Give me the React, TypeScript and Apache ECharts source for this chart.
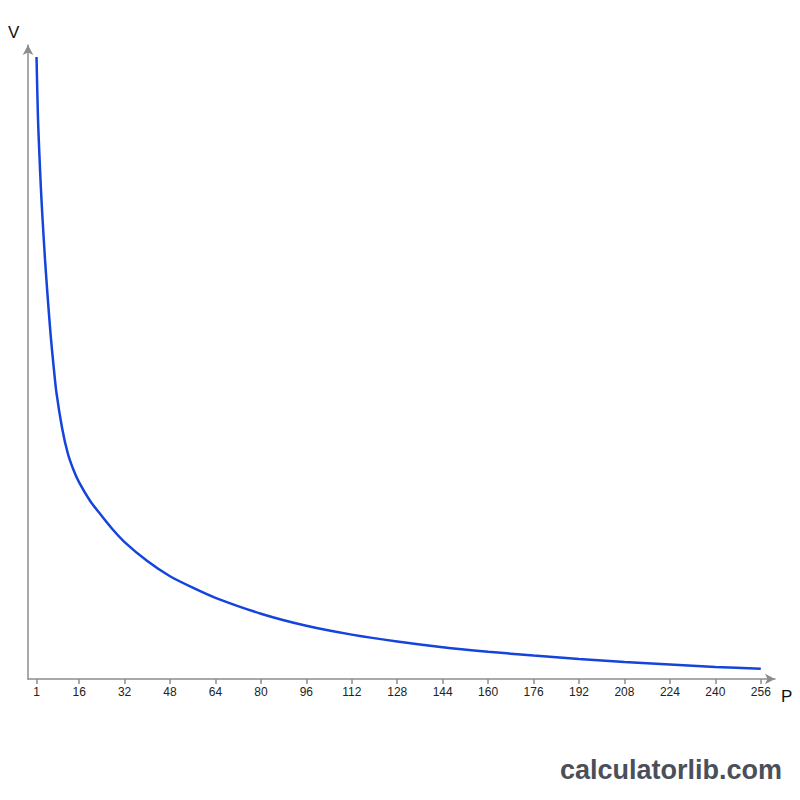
import React, { useEffect, useRef } from "react";
import * as echarts from "echarts";

const pressure = [1, 1.5, 2, 2.5, 3, 4, 5, 6, 7, 8, 10, 12, 14, 16, 20, 24, 28, 32, 40, 48, 56, 64, 80, 96, 112, 128, 144, 160, 176, 192, 208, 224, 240, 256];
const volume = [98.1, 88.6, 82.8, 77.8, 73.5, 66.1, 59.8, 54.1, 49.4, 45.2, 39.6, 35.6, 33.0, 31.0, 28.0, 25.7, 23.5, 21.6, 18.6, 16.2, 14.4, 12.8, 10.3, 8.4, 7.0, 5.9, 5.0, 4.3, 3.7, 3.15, 2.7, 2.3, 1.9, 1.6];
const tickValues = [1, 16, 32, 48, 64, 80, 96, 112, 128, 144, 160, 176, 192, 208, 224, 240, 256];

export default function App() {
  const ref = useRef<HTMLDivElement>(null);
  useEffect(() => {
    if (!ref.current) return;
    const chart = echarts.init(ref.current, null, { renderer: "svg" });
    const axisColor = "#8c8c8c";
    chart.setOption({
      animation: false,
      backgroundColor: "#ffffff",
      grid: { left: 28, right: 25, top: 45, bottom: 121, containLabel: false },
      xAxis: {
        type: "value",
        min: -2,
        max: 261,
        axisLine: {
          show: true,
          onZero: false,
          lineStyle: { color: axisColor, width: 1.5 },
          symbol: ["none", "arrow"],
          symbolSize: [8, 10],
        },
        axisTick: {
          show: true,
          length: 5,
          customValues: tickValues,
          lineStyle: { color: axisColor, width: 1.5 },
        },
        axisLabel: {
          show: true,
          customValues: tickValues,
          color: "#222222",
          fontSize: 12,
          fontFamily: "Liberation Sans, Arial, sans-serif",
          margin: 7,
        },
        splitLine: { show: false },
      },
      yAxis: {
        type: "value",
        min: 0,
        max: 100,
        axisLine: {
          show: true,
          onZero: false,
          lineStyle: { color: axisColor, width: 1.5 },
          symbol: ["none", "arrow"],
          symbolSize: [8, 10],
        },
        axisTick: { show: false },
        axisLabel: { show: false },
        splitLine: { show: false },
      },
      series: [
        {
          type: "line",
          data: pressure.map((p, i) => [p, volume[i]]),
          smooth: 0.25,
          showSymbol: false,
          symbol: "none",
          lineStyle: { color: "#1444dc", width: 2.5 },
        },
      ],
      graphic: [
        {
          type: "text",
          left: 8,
          top: 24,
          style: { text: "V", fontSize: 17, fill: "#111", fontFamily: "Liberation Sans, Arial, sans-serif" },
        },
        {
          type: "text",
          left: 781,
          top: 688,
          style: { text: "P", fontSize: 17, fill: "#111", fontFamily: "Liberation Sans, Arial, sans-serif" },
        },
        {
          type: "text",
          right: 18,
          top: 756,
          style: {
            text: "calculatorlib.com",
            fontSize: 27,
            fontWeight: "bold",
            fill: "#4a4f5a",
            fontFamily: "Liberation Sans, Arial, sans-serif",
          },
        },
      ],
    });
    return () => chart.dispose();
  }, []);
  return <div ref={ref} style={{ position: "fixed", left: 0, top: 0, width: 800, height: 800 }} />;
}
